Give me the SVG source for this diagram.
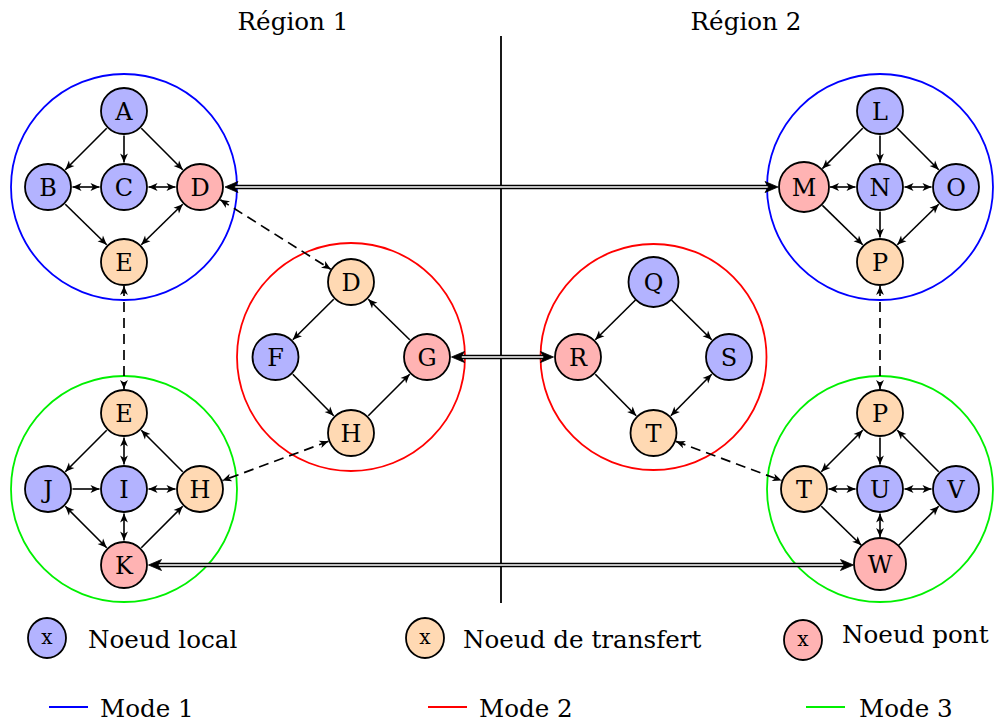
<svg xmlns="http://www.w3.org/2000/svg" width="995" height="722" viewBox="0 0 995 722">
<style>
  text { font-family: "DejaVu Serif", "Liberation Serif", serif; fill: #000; }
  .lbl { font-size: 24px; text-anchor: middle; }
  .txt { font-size: 24.6px; }
  .local { fill: #b3b3ff; stroke: #000; stroke-width: 1.8; }
  .transfer { fill: #ffd9b3; stroke: #000; stroke-width: 1.8; }
  .bridge { fill: #ffb3b3; stroke: #000; stroke-width: 1.8; }
  .m1 { fill: none; stroke: #0000ff; stroke-width: 1.8; }
  .m2 { fill: none; stroke: #ff0000; stroke-width: 1.8; }
  .m3 { fill: none; stroke: #00f000; stroke-width: 1.8; }
  .e1 { fill: none; stroke: #000; stroke-width: 1.6; marker-end: url(#st); }
  .e2 { fill: none; stroke: #000; stroke-width: 1.6; marker-end: url(#st); marker-start: url(#st); }
  .dash { fill: none; stroke: #000; stroke-width: 1.7; stroke-dasharray: 10 6; marker-end: url(#st); marker-start: url(#st); }
  .dbo { fill: none; stroke: #000; stroke-width: 4.6; }
  .dbi { fill: none; stroke: #fff; stroke-width: 1.6; }
  .head { fill: #000; stroke: #000; stroke-width: 0.8; stroke-linejoin: round; }
</style>
<defs>
  <marker id="st" markerUnits="userSpaceOnUse" viewBox="-10 -5 11 10" refX="0" refY="0" markerWidth="11" markerHeight="10" orient="auto-start-reverse">
    <path d="M0,0 L-9,-3.9 L-6.6,0 L-9,3.9 Z" fill="#000"/>
  </marker>
</defs>

<!-- region labels and divider -->
<text class="lbl" style="font-size:24.6px" x="293" y="30">Région 1</text>
<text class="lbl" style="font-size:24.6px" x="746" y="30">Région 2</text>
<line x1="501" y1="36" x2="501" y2="603" stroke="#000" stroke-width="1.8"/>

<!-- mode circles -->
<circle class="m1" cx="124" cy="187" r="113"/>
<circle class="m3" cx="124" cy="489" r="113"/>
<circle class="m2" cx="351" cy="357" r="114"/>
<circle class="m2" cx="653.5" cy="357" r="113"/>
<circle class="m1" cx="880" cy="187" r="113"/>
<circle class="m3" cx="880" cy="489" r="113"/>

<g id="connectors">
  <!-- top-left cluster -->
  <line class="e1" x1="106.7" y1="128.3" x2="65.3" y2="169.7"/>
  <line class="e1" x1="124" y1="135.5" x2="124" y2="162.5"/>
  <line class="e1" x1="141.3" y1="128.3" x2="182.7" y2="169.7"/>
  <line class="e2" x1="72.5" y1="187" x2="99.5" y2="187"/>
  <line class="e2" x1="148.5" y1="187" x2="175.5" y2="187"/>
  <line class="e1" x1="65.3" y1="204.3" x2="106.7" y2="244.7"/>
  <line class="e2" x1="182.7" y1="204.3" x2="141.3" y2="244.7"/>
  <!-- bottom-left cluster -->
  <line class="e1" x1="106.7" y1="430.3" x2="65.3" y2="471.7"/>
  <line class="e2" x1="124" y1="437.5" x2="124" y2="464.5"/>
  <line class="e1" x1="182.7" y1="471.7" x2="141.3" y2="430.3"/>
  <line class="e1" x1="72.5" y1="489" x2="99.5" y2="489"/>
  <line class="e2" x1="148.5" y1="489" x2="175.5" y2="489"/>
  <line class="e2" x1="65.3" y1="506.3" x2="106.7" y2="547.7"/>
  <line class="e2" x1="124" y1="513.5" x2="124" y2="540.5"/>
  <line class="e1" x1="141.3" y1="547.7" x2="182.7" y2="506.3"/>
  <!-- middle-left cluster -->
  <line class="e1" x1="333.7" y1="299.3" x2="292.8" y2="339.7"/>
  <line class="e1" x1="292.8" y1="374.3" x2="333.7" y2="415.7"/>
  <line class="e1" x1="368.3" y1="415.7" x2="409.7" y2="374.3"/>
  <line class="e1" x1="409.7" y1="339.7" x2="368.3" y2="299.3"/>
  <!-- middle-right cluster -->
  <line class="e1" x1="635.5" y1="300" x2="595.3" y2="339.7"/>
  <line class="e1" x1="671.5" y1="300" x2="711.7" y2="339.7"/>
  <line class="e1" x1="595.3" y1="374.3" x2="636.2" y2="415.7"/>
  <line class="e2" x1="711.7" y1="374.3" x2="670.8" y2="415.7"/>
  <!-- top-right cluster -->
  <line class="e1" x1="862.7" y1="128.3" x2="822.4" y2="168.6"/>
  <line class="e1" x1="880" y1="135.5" x2="880" y2="162.5"/>
  <line class="e1" x1="897.3" y1="128.3" x2="938.7" y2="169.7"/>
  <line class="e2" x1="830" y1="187" x2="855.5" y2="187"/>
  <line class="e2" x1="904.5" y1="187" x2="931.5" y2="187"/>
  <line class="e1" x1="822.4" y1="205.4" x2="862.7" y2="244.7"/>
  <line class="e1" x1="880" y1="211.5" x2="880" y2="237.5"/>
  <line class="e2" x1="938.7" y1="204.3" x2="897.3" y2="244.7"/>
  <!-- bottom-right cluster -->
  <line class="e2" x1="862.7" y1="430.3" x2="821.3" y2="471.7"/>
  <line class="e1" x1="880" y1="437.5" x2="880" y2="464.5"/>
  <line class="e1" x1="938.7" y1="471.7" x2="897.3" y2="430.3"/>
  <line class="e2" x1="828.5" y1="489" x2="855.5" y2="489"/>
  <line class="e2" x1="904.5" y1="489" x2="931.5" y2="489"/>
  <line class="e2" x1="880" y1="513.5" x2="880" y2="537"/>
  <line class="e1" x1="821.3" y1="506.3" x2="861.3" y2="545.3"/>
  <line class="e1" x1="898.7" y1="545.3" x2="938.7" y2="506.3"/>
  <!-- dashed inter-cluster -->
  <line class="dash" x1="220.3" y1="199.8" x2="330.7" y2="269.2"/>
  <line class="dash" x1="124" y1="286" x2="124" y2="389"/>
  <line class="dash" x1="328.5" y1="441.3" x2="222.5" y2="480.6"/>
  <line class="dash" x1="676" y1="441.4" x2="781.5" y2="480.6"/>
  <line class="dash" x1="880" y1="286" x2="880" y2="389"/>
  <!-- double lines -->
  <line class="dbo" x1="233" y1="187" x2="770" y2="187"/>
  <line class="dbi" x1="231" y1="187" x2="772" y2="187"/>
  <path class="head" d="M225,187 L238,181.5 L234.5,187 L238,192.5 Z"/>
  <path class="head" d="M778,187 L765,181.5 L768.5,187 L765,192.5 Z"/>
  <line class="dbo" x1="459" y1="357" x2="546" y2="357"/>
  <line class="dbi" x1="457" y1="357" x2="548" y2="357"/>
  <path class="head" d="M451.5,357 L464.5,351.5 L461,357 L464.5,362.5 Z"/>
  <path class="head" d="M553.5,357 L540.5,351.5 L544,357 L540.5,362.5 Z"/>
  <line class="dbo" x1="156" y1="565" x2="846" y2="565"/>
  <line class="dbi" x1="154" y1="565" x2="848" y2="565"/>
  <path class="head" d="M148.5,565 L161.5,559.5 L158,565 L161.5,570.5 Z"/>
  <path class="head" d="M853.5,565 L840.5,559.5 L844,565 L840.5,570.5 Z"/>
</g>

<!-- nodes: top-left -->
<g id="n-A1"><circle class="local" cx="124" cy="111" r="23"/><text class="lbl" x="124" y="119.5">A</text></g>
<g id="n-B1"><circle class="local" cx="48" cy="187" r="23"/><text class="lbl" x="48" y="195.5">B</text></g>
<g id="n-C1"><circle class="local" cx="124" cy="187" r="23"/><text class="lbl" x="124" y="195.5">C</text></g>
<g id="n-D1"><circle class="bridge" cx="200" cy="187" r="23"/><text class="lbl" x="200" y="195.5">D</text></g>
<g id="n-E1"><circle class="transfer" cx="124" cy="262" r="23"/><text class="lbl" x="124" y="270.5">E</text></g>
<!-- bottom-left -->
<g id="n-E2"><circle class="transfer" cx="124" cy="413" r="23"/><text class="lbl" x="124" y="421.5">E</text></g>
<g id="n-J"><circle class="local" cx="48" cy="489" r="23"/><text class="lbl" x="48" y="497.5">J</text></g>
<g id="n-I"><circle class="local" cx="124" cy="489" r="23"/><text class="lbl" x="124" y="497.5">I</text></g>
<g id="n-H2"><circle class="transfer" cx="200" cy="489" r="23"/><text class="lbl" x="200" y="497.5">H</text></g>
<g id="n-K"><circle class="bridge" cx="124" cy="565" r="23"/><text class="lbl" x="124" y="573.5">K</text></g>
<!-- middle-left -->
<g id="n-D2"><circle class="transfer" cx="351" cy="282" r="23"/><text class="lbl" x="351" y="290.5">D</text></g>
<g id="n-F"><circle class="local" cx="275.5" cy="357" r="23"/><text class="lbl" x="275.5" y="365.5">F</text></g>
<g id="n-G"><circle class="bridge" cx="427" cy="357" r="23"/><text class="lbl" x="427" y="365.5">G</text></g>
<g id="n-H1"><circle class="transfer" cx="351" cy="433" r="23"/><text class="lbl" x="351" y="441.5">H</text></g>
<!-- middle-right -->
<g id="n-Q"><circle class="local" cx="653.5" cy="282" r="25"/><text class="lbl" x="653.5" y="290.5">Q</text></g>
<g id="n-R"><circle class="bridge" cx="578" cy="357" r="23"/><text class="lbl" x="578" y="365.5">R</text></g>
<g id="n-S"><circle class="local" cx="729" cy="357" r="23"/><text class="lbl" x="729" y="365.5">S</text></g>
<g id="n-T1"><circle class="transfer" cx="653.5" cy="433" r="23"/><text class="lbl" x="653.5" y="441.5">T</text></g>
<!-- top-right -->
<g id="n-L"><circle class="local" cx="880" cy="111" r="23"/><text class="lbl" x="880" y="119.5">L</text></g>
<g id="n-M"><circle class="bridge" cx="804" cy="187" r="25"/><text class="lbl" x="804" y="195.5">M</text></g>
<g id="n-N"><circle class="local" cx="880" cy="187" r="23"/><text class="lbl" x="880" y="195.5">N</text></g>
<g id="n-O"><circle class="local" cx="956" cy="187" r="23"/><text class="lbl" x="956" y="195.5">O</text></g>
<g id="n-P1"><circle class="transfer" cx="880" cy="262" r="23"/><text class="lbl" x="880" y="270.5">P</text></g>
<!-- bottom-right -->
<g id="n-P2"><circle class="transfer" cx="880" cy="413" r="23"/><text class="lbl" x="880" y="421.5">P</text></g>
<g id="n-T2"><circle class="transfer" cx="804" cy="489" r="23"/><text class="lbl" x="804" y="497.5">T</text></g>
<g id="n-U"><circle class="local" cx="880" cy="489" r="23"/><text class="lbl" x="880" y="497.5">U</text></g>
<g id="n-V"><circle class="local" cx="956" cy="489" r="23"/><text class="lbl" x="956" y="497.5">V</text></g>
<g id="n-W"><circle class="bridge" cx="880" cy="564" r="26"/><text class="lbl" x="880" y="572.5">W</text></g>

<!-- legend -->
<g id="legend-local"><ellipse class="local" cx="47" cy="638" rx="19" ry="20"/><text class="lbl" style="font-size:20px" x="47" y="644">x</text><text class="txt" x="88" y="648">Noeud local</text></g>
<g id="legend-transfer"><ellipse class="transfer" cx="425" cy="638" rx="19" ry="20"/><text class="lbl" style="font-size:20px" x="425" y="644">x</text><text class="txt" x="463" y="648">Noeud de transfert</text></g>
<g id="legend-bridge"><ellipse class="bridge" cx="803" cy="640" rx="19" ry="20"/><text class="lbl" style="font-size:20px" x="803" y="646">x</text><text class="txt" x="842" y="643">Noeud pont</text></g>
<g id="legend-mode1"><line x1="49" y1="707" x2="88" y2="707" stroke="#0000ff" stroke-width="2"/><text class="txt" x="100" y="717">Mode 1</text></g>
<g id="legend-mode2"><line x1="428" y1="707" x2="467" y2="707" stroke="#ff0000" stroke-width="2"/><text class="txt" x="479" y="717">Mode 2</text></g>
<g id="legend-mode3"><line x1="806" y1="707" x2="845" y2="707" stroke="#00f000" stroke-width="2"/><text class="txt" x="859" y="717">Mode 3</text></g>
</svg>
